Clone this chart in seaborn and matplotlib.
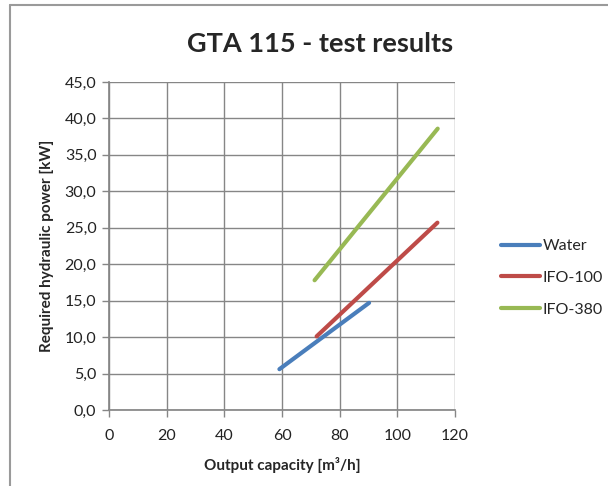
import matplotlib

matplotlib.use("Agg")
import matplotlib.pyplot as plt  # noqa: E402
import pandas as pd  # noqa: E402
import seaborn as sns  # noqa: E402
from matplotlib.lines import Line2D  # noqa: E402
from matplotlib.ticker import FuncFormatter, MultipleLocator  # noqa: E402

sns.set_theme(style="whitegrid")
plt.rcParams["font.family"] = ["Lato", "DejaVu Sans"]

# values
series_names = ["Water", "IFO-100", "IFO-380"]
water_x = [59.1, 90.2]
water_y = [5.6, 14.7]
ifo100_x = [72.0, 113.9]
ifo100_y = [10.1, 25.7]
ifo380_x = [71.3, 114.0]
ifo380_y = [17.8, 38.6]
colors = ["#4a7ebb", "#be4b48", "#98b954"]

df = pd.concat([
    pd.DataFrame({"capacity": water_x, "power": water_y, "fluid": "Water"}),
    pd.DataFrame({"capacity": ifo100_x, "power": ifo100_y, "fluid": "IFO-100"}),
    pd.DataFrame({"capacity": ifo380_x, "power": ifo380_y, "fluid": "IFO-380"}),
])

fig = plt.figure(figsize=(6.08, 4.86), dpi=100)
ax = fig.add_axes([109 / 608, 1 - 410 / 486, 346 / 608, 328 / 486])

grid_c = "#868686"
sns.lineplot(data=df, x="capacity", y="power", hue="fluid", hue_order=series_names,
             palette=colors, linewidth=3, legend=False, ax=ax, solid_capstyle="round")

ax.set_xlim(0, 120)
ax.set_ylim(0, 45)
ax.xaxis.set_major_locator(MultipleLocator(20))
ax.yaxis.set_major_locator(MultipleLocator(5))
ax.yaxis.set_major_formatter(FuncFormatter(lambda v, p: f"{v:.1f}".replace(".", ",")))
ax.grid(True, color=grid_c, linewidth=1)
for s in ax.spines.values():
    s.set_visible(False)
ax.spines["left"].set_visible(True)
ax.spines["bottom"].set_visible(True)
ax.spines["left"].set_color(grid_c)
ax.spines["bottom"].set_color(grid_c)
ax.tick_params(axis="both", which="major", length=5, width=1, color=grid_c,
               labelsize=11.5, labelcolor="#222222", direction="out", pad=4)
ax.tick_params(axis="x", pad=9)
ax.tick_params(bottom=True, left=True)
ax.set_facecolor("white")

ax.set_xlabel("Output capacity [m³/h]", fontsize=11, fontweight="bold", labelpad=10)
ax.set_ylabel("Required hydraulic power [kW]", fontsize=11, fontweight="bold", labelpad=8)
fig.text(0.527, 1 - 44 / 486, "GTA 115 - test results", ha="center", va="center",
         fontsize=19.5, fontweight="bold")

handles = [Line2D([0], [0], color=c, linewidth=3) for c in colors]
fig.legend(handles, series_names, loc="center left", bbox_to_anchor=(487 / 608, 1 - 278 / 486),
           frameon=False, fontsize=11.5, handlelength=2.4, handletextpad=0.2, labelspacing=1.1)

# chart border
fig.add_artist(Line2D([10 / 608, 10 / 608], [0, 1 - 5 / 486], color="#9a9a9a", linewidth=1.5))
fig.add_artist(Line2D([10 / 608, 1], [1 - 5 / 486, 1 - 5 / 486], color="#9a9a9a", linewidth=1.5))

fig.savefig("out.png", dpi=100, facecolor="white")
